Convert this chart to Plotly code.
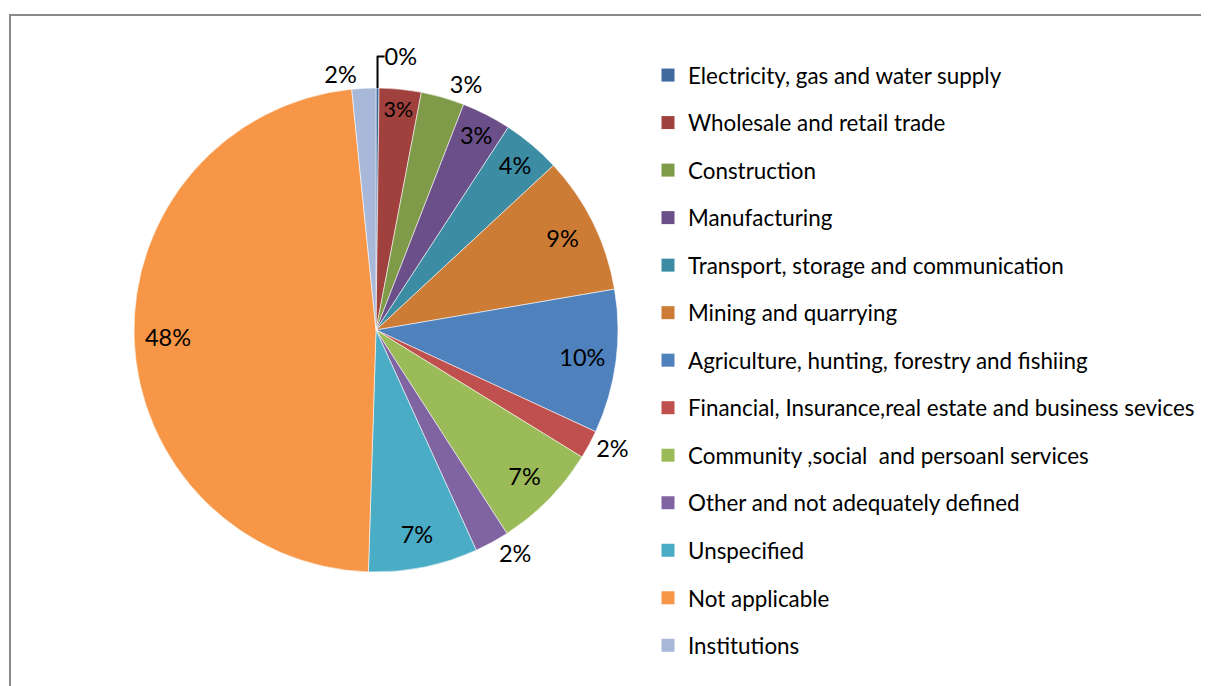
import plotly.graph_objects as go

categories = [
    "Electricity, gas and water supply",
    "Wholesale and retail trade",
    "Construction",
    "Manufacturing",
    "Transport, storage and communication",
    "Mining and quarrying",
    "Agriculture, hunting, forestry and fishiing",
    "Financial, Insurance,real estate and business sevices",
    "Community ,social  and persoanl services",
    "Other and not adequately defined",
    "Unspecified",
    "Not applicable",
    "Institutions",
]
values = [0.2, 2.8, 2.9, 3.3, 3.9, 9.2, 9.6, 1.9, 7.1, 2.3, 7.3, 47.9, 1.6]
colors = ["#3F6A9F", "#A0413E", "#7F9A48", "#6A4F88", "#3C8DA4", "#CD7C36",
          "#4F81BD", "#C0504D", "#9BBB59", "#8064A2", "#4BACC6", "#F79646", "#A7B8D8"]
text_positions = ["outside", "inside", "outside", "inside", "inside", "inside",
                  "inside", "outside", "inside", "outside", "inside", "inside", "outside"]

FONT = "Lato"
FS = 22.4
LABEL_FS = 23.5
W, H, OFF = 1201, 678, 8


def px(x):
    return (x - OFF) / W


def py(y):
    return 1 - (y - OFF) / H


CX, CY, R = 376, 330, 242
dom = dict(x=[px(CX - R), px(CX + R)], y=[py(CY + R), py(CY - R)])

fig = go.Figure()
# coloured slices
fig.add_trace(go.Pie(
    labels=categories, values=values, sort=False, direction="clockwise", rotation=0,
    marker=dict(colors=colors, line=dict(color="rgba(255,255,255,0.7)", width=0.8)),
    textinfo="none", showlegend=False, hoverinfo="label+percent", domain=dom,
))
# label ring (transparent) so inside labels sit near the rim like the original
fig.add_trace(go.Pie(
    labels=categories, values=values, sort=False, direction="clockwise", rotation=0,
    hole=0.72,
    marker=dict(colors=["rgba(0,0,0,0)"] * len(values), line=dict(width=0)),
    texttemplate="%{percent:.0%}", textposition=text_positions,
    insidetextorientation="horizontal",
    textfont=dict(family=FONT, size=LABEL_FS, color="black"),
    showlegend=False, hoverinfo="skip", domain=dom,
))
for cat, col in zip(categories, colors):
    fig.add_trace(go.Scatter(
        x=[None], y=[None], mode="markers", name=cat, legendgroup=cat,
        marker=dict(symbol="square", size=13, color=col), showlegend=True,
    ))

fig.update_layout(
    width=W, height=H, margin=dict(l=0, r=0, t=0, b=0),
    paper_bgcolor="white", plot_bgcolor="white",
    xaxis=dict(visible=False), yaxis=dict(visible=False),
    font=dict(family=FONT, size=FS, color="black"),
    legend=dict(x=px(648), xanchor="left", y=py(54), yanchor="top",
                traceorder="grouped", tracegroupgap=15.4, font=dict(family=FONT, size=FS),
                itemclick=False, bgcolor="rgba(0,0,0,0)"),
    shapes=[
        dict(type="path", xref="paper", yref="paper",
             path=f"M {px(10)} -0.02 L {px(10)} {py(15)} L 1.02 {py(15)}",
             line=dict(color="#8A8A8A", width=2)),
    ],
)
fig.write_html("out.html")
